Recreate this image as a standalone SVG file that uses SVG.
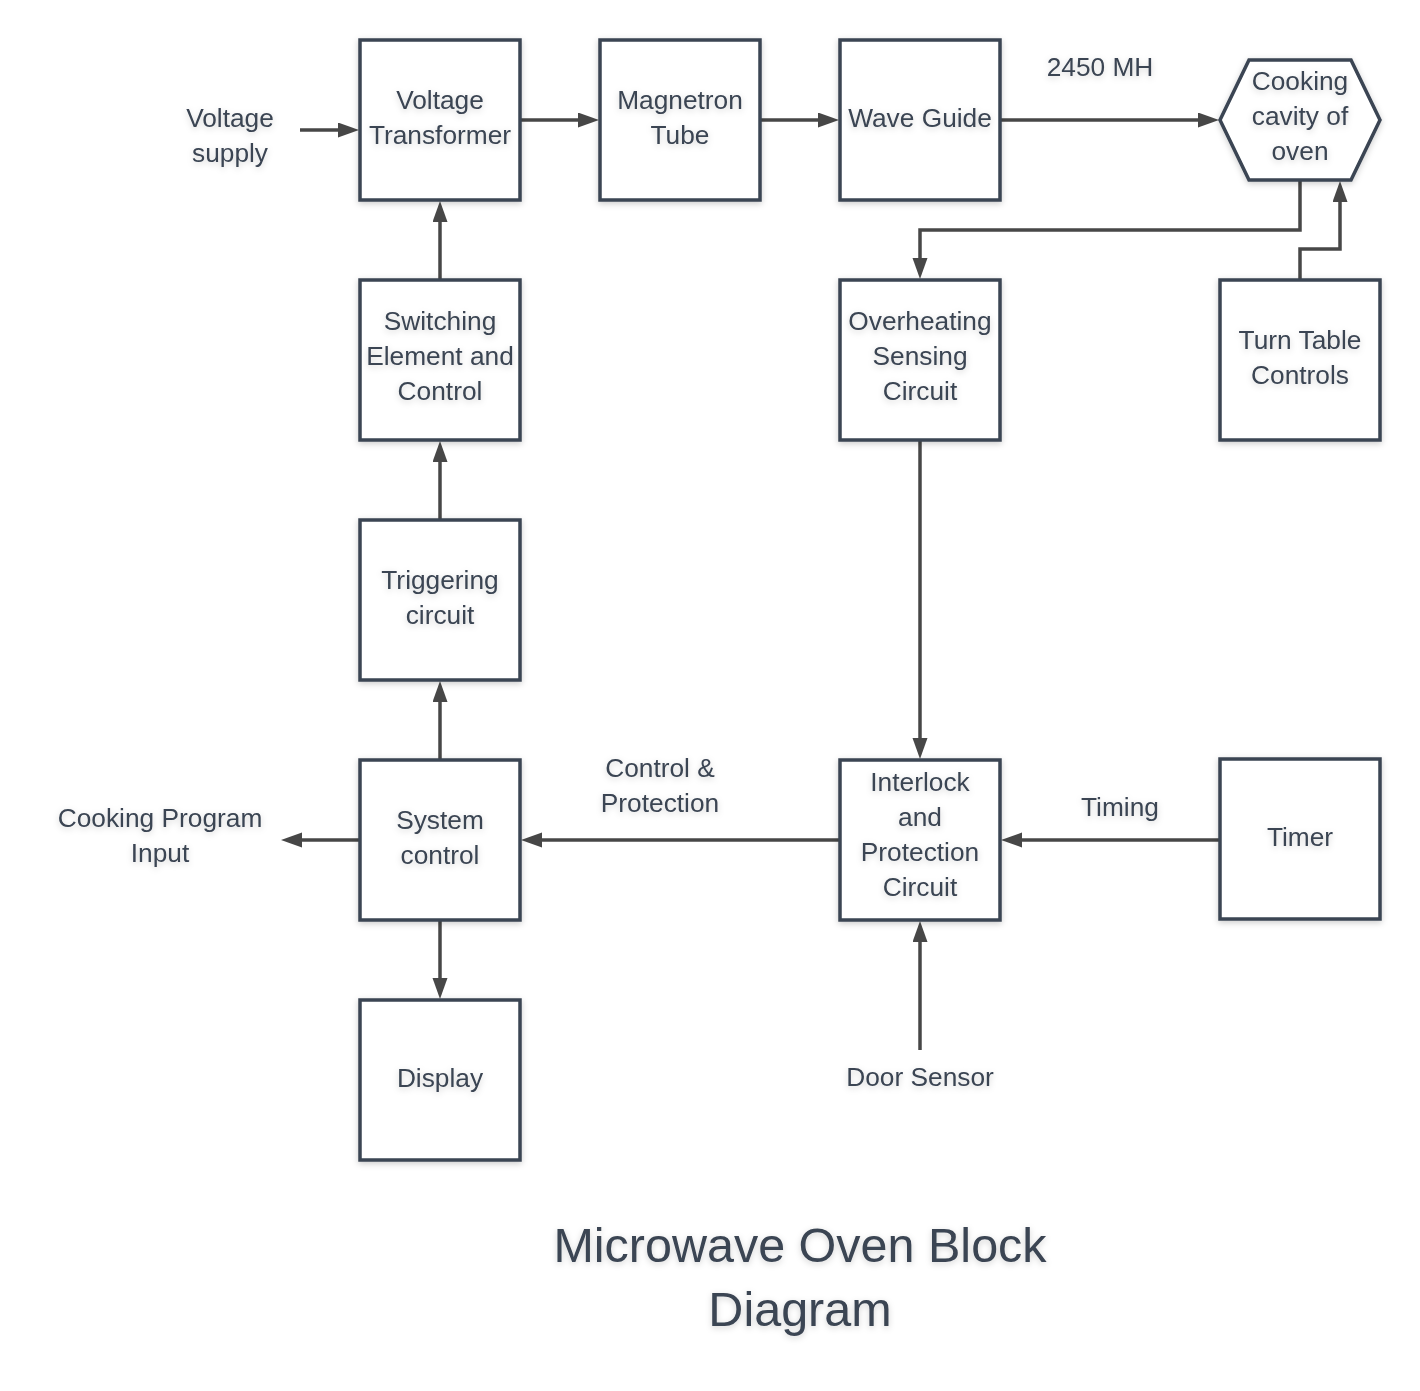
<svg xmlns="http://www.w3.org/2000/svg" width="1420" height="1391" viewBox="0 0 1420 1391">
<style>
.box{fill:#ffffff;stroke:#3a4452;stroke-width:3.5;filter:url(#sh)}
.t{font-family:"Liberation Sans",Arial,sans-serif;font-size:26.3px;fill:#3a4452;text-anchor:middle;filter:url(#tsh)}
.title{font-size:48.5px}
.c{fill:none;stroke:#474747;stroke-width:3.5;marker-end:url(#ah)}
</style>
<defs>
<filter id="sh" x="-20%" y="-20%" width="140%" height="140%">
<feDropShadow dx="0" dy="2" stdDeviation="3" flood-color="#000" flood-opacity="0.2"/>
</filter>
<filter id="tsh" x="-20%" y="-30%" width="140%" height="160%">
<feDropShadow dx="0" dy="2" stdDeviation="3" flood-color="#000" flood-opacity="0.18"/>
</filter>
<marker id="ah" markerUnits="userSpaceOnUse" markerWidth="24" markerHeight="16" refX="10" refY="7.5" orient="auto">
<path d="M0,0 L21,7.5 L0,15 Z" fill="#474747"/>
</marker>
</defs>
<rect width="1420" height="1391" fill="#ffffff"/>

<g id="connectors">
<path class="c" d="M300,130 H348"/>
<path class="c" d="M520,120 H588"/>
<path class="c" d="M760,120 H828"/>
<path class="c" d="M1000,120 H1208"/>
<path class="c" d="M1300,180 V230 H920 V268"/>
<path class="c" d="M1300,280 V249 H1340 V192"/>
<path class="c" d="M440,280 V212"/>
<path class="c" d="M440,520 V452"/>
<path class="c" d="M440,760 V692"/>
<path class="c" d="M440,920 V988"/>
<path class="c" d="M360,840 H292"/>
<path class="c" d="M840,840 H532"/>
<path class="c" d="M1220,840 H1012"/>
<path class="c" d="M920,440 V748"/>
<path class="c" d="M920,1050 V932"/>
</g>

<g id="voltage-supply"><text class="t" x="230" y="127">Voltage</text><text class="t" x="230" y="162">supply</text></g>

<g id="voltage-transformer">
<rect class="box" x="360" y="40" width="160" height="160"/>
<text class="t" x="440" y="109">Voltage</text><text class="t" x="440" y="144">Transformer</text>
</g>
<g id="magnetron-tube">
<rect class="box" x="600" y="40" width="160" height="160"/>
<text class="t" x="680" y="109">Magnetron</text><text class="t" x="680" y="144">Tube</text>
</g>
<g id="wave-guide">
<rect class="box" x="840" y="40" width="160" height="160"/>
<text class="t" x="920" y="127">Wave Guide</text>
</g>
<g id="label-2450"><text class="t" x="1100" y="76">2450 MH</text></g>
<g id="cooking-cavity">
<polygon class="box" points="1220,120 1249,60 1351,60 1380,120 1351,180 1249,180"/>
<text class="t" x="1300" y="90">Cooking</text><text class="t" x="1300" y="125">cavity of</text><text class="t" x="1300" y="160">oven</text>
</g>
<g id="switching-element">
<rect class="box" x="360" y="280" width="160" height="160"/>
<text class="t" x="440" y="330">Switching</text><text class="t" x="440" y="365">Element and</text><text class="t" x="440" y="400">Control</text>
</g>
<g id="overheating-sensing">
<rect class="box" x="840" y="280" width="160" height="160"/>
<text class="t" x="920" y="330">Overheating</text><text class="t" x="920" y="365">Sensing</text><text class="t" x="920" y="400">Circuit</text>
</g>
<g id="turn-table">
<rect class="box" x="1220" y="280" width="160" height="160"/>
<text class="t" x="1300" y="349">Turn Table</text><text class="t" x="1300" y="384">Controls</text>
</g>
<g id="triggering-circuit">
<rect class="box" x="360" y="520" width="160" height="160"/>
<text class="t" x="440" y="589">Triggering</text><text class="t" x="440" y="624">circuit</text>
</g>
<g id="system-control">
<rect class="box" x="360" y="760" width="160" height="160"/>
<text class="t" x="440" y="829">System</text><text class="t" x="440" y="864">control</text>
</g>
<g id="cooking-program-input"><text class="t" x="160" y="827">Cooking Program</text><text class="t" x="160" y="862">Input</text></g>
<g id="control-protection-label"><text class="t" x="660" y="777">Control &amp;</text><text class="t" x="660" y="812">Protection</text></g>
<g id="interlock">
<rect class="box" x="840" y="760" width="160" height="160"/>
<text class="t" x="920" y="791">Interlock</text><text class="t" x="920" y="826">and</text><text class="t" x="920" y="861">Protection</text><text class="t" x="920" y="896">Circuit</text>
</g>
<g id="timing-label"><text class="t" x="1120" y="816">Timing</text></g>
<g id="timer">
<rect class="box" x="1220" y="759" width="160" height="160"/>
<text class="t" x="1300" y="846">Timer</text>
</g>
<g id="display">
<rect class="box" x="360" y="1000" width="160" height="160"/>
<text class="t" x="440" y="1087">Display</text>
</g>
<g id="door-sensor"><text class="t" x="920" y="1086">Door Sensor</text></g>
<g id="title"><text class="t title" x="800" y="1262">Microwave Oven Block</text><text class="t title" x="800" y="1326">Diagram</text></g>
</svg>
